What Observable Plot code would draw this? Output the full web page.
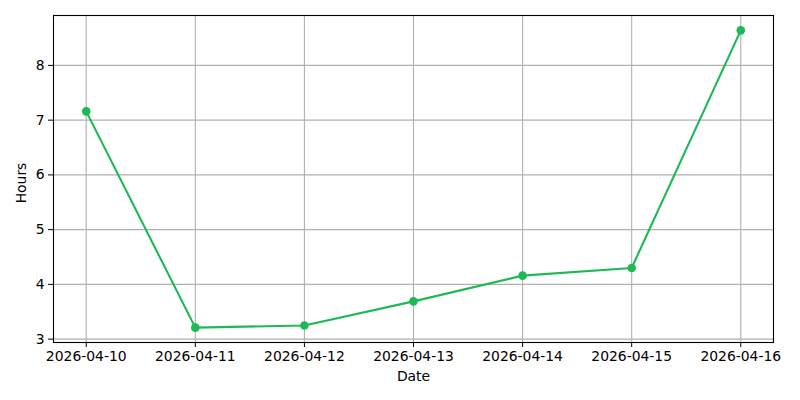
<!DOCTYPE html>
<html>
<head>
<meta charset="utf-8">
<script src="https://cdn.jsdelivr.net/npm/d3@7"></script>
<script src="https://cdn.jsdelivr.net/npm/@observablehq/plot@0.6"></script>
<style>
  html, body { margin: 0; padding: 0; background: #fff; }
  #chart svg { display: block; }
</style>
</head>
<body>
<div id="chart"></div>
<script>
const dates = ["2026-04-10", "2026-04-11", "2026-04-12", "2026-04-13", "2026-04-14", "2026-04-15", "2026-04-16"];
const hours = [7.16, 3.21, 3.25, 3.69, 4.16, 4.30, 8.64];
const yTicks = [3, 4, 5, 6, 7, 8];
const xLabel = "Date";
const yLabel = "Hours";

const parse = d3.utcParse("%Y-%m-%d");
const fmt = d3.utcFormat("%Y-%m-%d");
const data = dates.map((d, i) => ({date: parse(d), hours: hours[i]}));
const xTicks = data.map(d => d.date);
const x0 = +xTicks[0], x1 = +xTicks[xTicks.length - 1];
const pad = (x1 - x0) * 0.05;
const ymin = d3.min(hours), ymax = d3.max(hours);
const ypad = (ymax - ymin) * 0.05;

const green = "#1db954";

const chart = Plot.plot({
  width: 800,
  height: 400,
  marginLeft: 53,
  marginRight: 27,
  marginTop: 15,
  marginBottom: 58,
  style: {fontFamily: "DejaVu Sans, sans-serif", fontSize: "13.9px", color: "#000", background: "#fff"},
  x: {type: "utc", domain: [new Date(x0 - pad), new Date(x1 + pad)]},
  y: {domain: [ymin - ypad, ymax + ypad]},
  marks: [
    Plot.gridX(xTicks, {stroke: "#b0b0b0", strokeOpacity: 1, strokeWidth: 1.1}),
    Plot.gridY(yTicks, {stroke: "#b0b0b0", strokeOpacity: 1, strokeWidth: 1.1}),
    Plot.line(data, {x: "date", y: "hours", stroke: green, strokeWidth: 2.1}),
    Plot.dot(data, {x: "date", y: "hours", fill: green, r: 4.3}),
    Plot.frame({stroke: "#000", strokeWidth: 1.1}),
    Plot.axisX(xTicks, {tickFormat: fmt, tickSize: 5, tickPadding: 4, label: null, fontSize: 13.9}),
    Plot.axisY(yTicks, {tickFormat: d => String(d), tickSize: 5, tickPadding: 4, label: null, fontSize: 13.9}),
    Plot.text([xLabel], {frameAnchor: "bottom", dy: 38, fontSize: 13.9}),
    Plot.text([yLabel], {frameAnchor: "left", textAnchor: "middle", lineAnchor: "middle", dx: -32, dy: 4, rotate: -90, fontSize: 13.9})
  ]
});
document.getElementById("chart").appendChild(chart);
</script>
</body>
</html>
